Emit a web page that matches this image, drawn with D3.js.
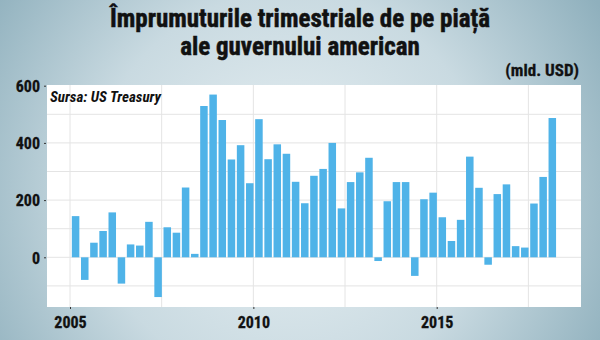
<!DOCTYPE html>
<html><head><meta charset="utf-8">
<script src="https://cdn.jsdelivr.net/npm/d3@7"></script>
<style>
html,body{margin:0;padding:0;background:#fff;}
svg{display:block;}
text{font-family:"Liberation Sans Narrow","Roboto Condensed","DejaVu Sans Condensed","Arial Narrow",sans-serif;font-stretch:condensed;font-weight:bold;fill:#111;}
</style></head>
<body>
<svg id="c" width="600" height="340"></svg>
<script>
const titleLines = ["Împrumuturile trimestriale de pe piață", "ale guvernului american"];
const unitLabel = "(mld. USD)";
const sourceLabel = "Sursa: US Treasury";
const startYear = 2005;
const quarterValues = [
  144, -79, 51, 92,
  157, -92, 45, 41,
  124, -139, 105, 86,
  244, 12, 529, 569,
  480, 342, 392, 259,
  483, 343, 395, 362,
  264, 189, 285, 309,
  400, 171, 263, 297,
  348, -13, 196, 263,
  263, -65, 203, 226,
  140, 57, 131, 352,
  243, -26, 221, 255,
  39, 34, 188, 281,
  487
];
const yTicks = [0, 200, 400, 600];
const yGrid = [-100, 0, 100, 200, 300, 400, 500];
const xTicks = [2005, 2010, 2015];
const xGrid = [2005, 2007.5, 2010, 2012.5, 2015, 2017.5];

const data = quarterValues.map((v, i) => ({t: startYear + i * 0.25, v}));

const svg = d3.select("#c");
const defs = svg.append("defs");
const grad = defs.append("radialGradient").attr("id", "bg")
  .attr("gradientUnits", "userSpaceOnUse").attr("cx", 290).attr("cy", 190).attr("r", 360);
grad.append("stop").attr("offset", "0%").attr("stop-color", "#e8f0f3");
grad.append("stop").attr("offset", "55%").attr("stop-color", "#c9dae1");
grad.append("stop").attr("offset", "100%").attr("stop-color", "#8fb0bd");
svg.append("rect").attr("width", 600).attr("height", 340).attr("fill", "url(#bg)");

const plot = {left: 47, right: 581, top: 85, bottom: 307};
const x = d3.scaleLinear().domain([2005, 2015]).range([70, 436.7]);
const y = d3.scaleLinear().domain([0, 600]).range([257.3, 85.7]);

svg.append("rect").attr("x", plot.left).attr("y", plot.top)
  .attr("width", plot.right - plot.left).attr("height", plot.bottom - plot.top)
  .attr("fill", "#ffffff");

// gridlines
svg.append("g").selectAll("line").data(yGrid).join("line")
  .attr("x1", plot.left).attr("x2", plot.right)
  .attr("y1", d => y(d)).attr("y2", d => y(d))
  .attr("stroke", "#e4e4e4").attr("stroke-width", 1);
svg.append("g").selectAll("line").data(xGrid).join("line")
  .attr("x1", d => x(d)).attr("x2", d => x(d))
  .attr("y1", plot.top).attr("y2", plot.bottom)
  .attr("stroke", "#e4e4e4").attr("stroke-width", 1);

// bars
svg.append("g").selectAll("rect").data(data).join("rect")
  .attr("x", d => x(d.t + 0.05))
  .attr("width", d => x(d.t + 0.255) - x(d.t + 0.05))
  .attr("y", d => Math.min(y(d.v), y(0)))
  .attr("height", d => Math.abs(y(d.v) - y(0)))
  .attr("fill", "#4fb3e8");

// y axis
const yAxis = d3.axisLeft(y).tickValues(yTicks).tickSize(2).tickPadding(4);
const gy = svg.append("g").attr("transform", `translate(${plot.left - 1},0)`).call(yAxis);
gy.select(".domain").remove();
gy.selectAll(".tick line").attr("stroke", "#333");
gy.selectAll("text").attr("font-size", 16).attr("fill", "#111")
  .attr("stroke", "#111").attr("stroke-width", 0.3).attr("dy", "0.36em");

// x axis
const xAxis = d3.axisBottom(x).tickValues(xTicks).tickFormat(d3.format("d")).tickSize(2).tickPadding(8);
const gx = svg.append("g").attr("transform", `translate(0,${plot.bottom})`).call(xAxis);
gx.select(".domain").remove();
gx.selectAll(".tick line").attr("stroke", "#333");
gx.selectAll("text").attr("font-size", 16).attr("fill", "#111")
  .attr("stroke", "#111").attr("stroke-width", 0.3);

// titles
svg.append("g").selectAll("text").data(titleLines).join("text")
  .attr("x", 300).attr("y", (d, i) => 27 + i * 28)
  .attr("text-anchor", "middle").attr("font-size", 25)
  .attr("stroke", "#111").attr("stroke-width", 0.5).text(d => d);

svg.append("text").attr("x", 579).attr("y", 76).attr("text-anchor", "end")
  .attr("font-size", 17).attr("stroke", "#111").attr("stroke-width", 0.3).text(unitLabel);

svg.append("text").attr("x", 50).attr("y", 102).attr("font-size", 15)
  .attr("font-style", "italic").text(sourceLabel);
</script>
</body></html>
